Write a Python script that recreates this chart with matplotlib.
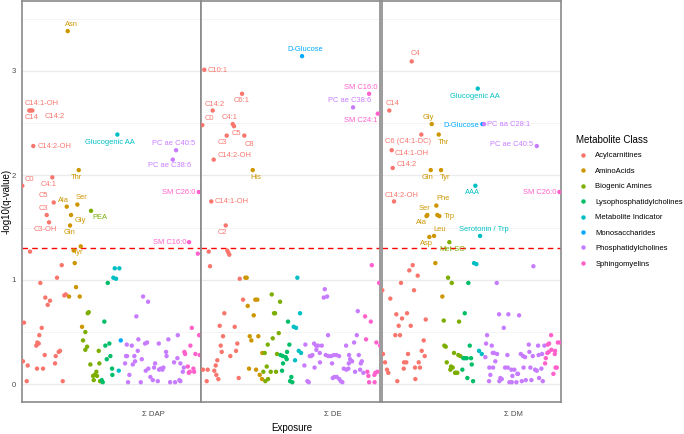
import matplotlib
matplotlib.use("Agg")
import matplotlib.pyplot as plt
from matplotlib.lines import Line2D
import numpy as np

plt.rcParams['font.family'] = ['Liberation Sans', 'DejaVu Sans']

CLASSES = ["Acylcarnitines", "AminoAcids", "Biogenic Amines", "Lysophosphatidylcholines",
           "Metabolite Indicator", "Monosaccharides", "Phosphatidylcholines", "Sphingomyelins"]
CLASS_COLORS = ["#F8766D", "#CD9600", "#7CAE00", "#00BE67", "#00BFC4", "#00A9FF", "#C77CFF", "#FF61CC"]
EXPOSURES = ["\u03a3 DAP", "\u03a3 DE", "\u03a3 DM"]
N_METABOLITES = 179.3
THRESHOLD = -np.log10(0.05)

# ---------------- DAP ----------------
DAP_RANK = [8.3, 40, 35.3, 18.6, 23.6, 28.3, 26, 42.6, 44, 2.3, 20, 17.6, 14.6, 15.6, 17, 23, 34, 33.3, 37, 38.3, 1.3, 6, 15.3, 21.3, 5, 41,
            52, 53, 54.3, 47.3, 58, 60.3,
            67, 66, 63.6, 61.3, 77, 77.6, 68.6, 65.3, 63.6, 71.3, 75.3, 73, 74.6, 72, 78.3,
            86, 82.6, 83.6, 87.6, 88.6, 85, 90.3, 90.6, 81, 80,
            93, 97.6, 91.6, 94.3, 97,
            99,
            121.3, 126.3, 114.6, 156, 105, 110, 116.6, 123.3, 125.3, 137, 146.6, 144.3, 144.8, 103.3, 106.3, 107.6, 104.3, 105.3,
            112.6, 113.3, 111, 116, 120, 119, 124, 126.6, 128.6, 131, 133.3, 132.3, 136, 137.3, 139, 140.6, 141.6, 148.3, 153.3,
            157.6, 158.6, 152.3, 158.6, 155.6, 161, 162,
            166, 170, 177.3, 168.6, 162.6, 163.3, 173.6, 171.6, 172.3, 176, 167, 168, 178]
DAP_LOGQ = [1.27, 1.14, 1.02, 0.97, 0.83, 0.80, 0.76, 0.85, 0.86, 0.59, 0.54, 0.47, 0.37, 0.40, 0.39, 0.28, 0.27, 0.20, 0.31, 0.32, 0.22, 0.18, 0.15, 0.15, 0.03, 0.03,
            1.28, 1.16, 0.93, 0.84, 0.84, 0.55,
            0.69, 0.68, 0.50, 0.42, 0.32, 0.20, 0.19, 0.36, 0.33, 0.08, 0.08, 0.09, 0.12, 0.04, 0.03,
            0.97, 0.60, 0.37, 0.39, 0.27, 0.24, 0.15, 0.09, 0.02, 0.04,
            1.11, 1.11, 1.02, 1.01, 0.13,
            0.42,
            0.84, 0.79, 0.65, 0.47, 0.38, 0.37, 0.43, 0.39, 0.40, 0.39, 0.43, 0.31, 0.27, 0.20, 0.02, 0.09, 0.27, 0.27,
            0.27, 0.22, 0.19, 0.32, 0.24, 0.02, 0.13, 0.15, 0.07, 0.04, 0.20, 0.16, 0.03, 0.14, 0.15, 0.14, 0.16, 0.02, 0.02,
            0.04, 0.03, 0.21, 0.20, 0.25, 0.12, 0.16,
            0.17, 0.54, 0.47, 0.37, 0.31, 0.29, 0.29, 0.15, 0.12, 1.25, 0.11, 0.12, 0.28]
DAP_CLASS = [0] * 26 + [1] * 6 + [2] * 15 + [3] * 10 + [4] * 5 + [5] * 1 + [6] * 44 + [7] * 13

DAP_LAB_NAME = ["Asn", "C14:1-OH", "C14", "C14:2", "C14:2-OH", "Glucogenic AA", "PC ae C40:5", "PC ae C38:6", "Thr",
                "C4:1", "C0", "SM C26:0", "C5", "Ala", "Ser", "C3", "Gly", "PEA", "C3-OH", "Gln", "SM C16:0", "Tyr"]
DAP_LAB_RANK = [46, 7.6, 9.1, 10.6, 11.6, 95.6, 154.3, 151, 57, 30.6, 0.6, 177, 32, 45, 55.6, 25, 49.3, 69.3, 27.3, 48.3, 167.3, 59]
DAP_LAB_LOGQ = [3.38, 2.62, 2.62, 2.62, 2.28, 2.39, 2.24, 2.15, 2.05, 1.98, 1.90, 1.84, 1.74, 1.70, 1.72, 1.62, 1.62, 1.66, 1.55,
                1.52, 1.36, 1.32]
DAP_LAB_CLASS = [1, 0, 0, 0, 0, 4, 6, 6, 1, 0, 0, 7, 0, 1, 1, 0, 1, 2, 0, 1, 7, 1]

# ---------------- DE ----------------
DE_RANK = [7.7, 26.3, 27.3, 28.3, 9, 38.7, 42, 23.3, 18.7, 33.7, 22, 19.7, 36.3, 20.7, 35, 29.3, 16.3, 14.7, 2, 6.7, 13.3, 15.3, 17.3, 5.7, 37.7,
           44.3, 45.7, 54.3, 56.3, 46.7, 52.7, 48.7, 50.3, 57.3, 61.3, 48, 55, 58.7, 61,
           70.7, 79, 73, 74, 77.7, 71.7, 66.7, 63.7, 76, 65.7, 62.3, 69.7, 75, 64.3, 67,
           87, 88.3, 79.5, 81.7, 84.7, 86, 82, 81, 90.3, 89, 91.3, 85.7,
           96.3, 99, 92.7, 95, 97.7, 100, 94,
           123.7, 122.7, 126, 156.7, 127, 155.7, 104.3, 113, 115, 117, 120.7, 145, 153, 108.7, 110, 111.3, 115.3, 118.7, 124.7,
           127.3, 130, 132.7, 135.3, 138, 148, 149, 151, 147.7, 157.7, 103.3, 113.5, 118.9, 131, 142.7, 145.2, 147.3, 154, 159.7,
           160.7, 159, 162.3, 106.3, 107.7, 131.7, 133.3, 135.7, 138.2, 139.7, 141.3,
           170.7, 178, 164, 169.7, 165, 175.3, 179, 166.3, 167.3, 173.3, 174.3, 176.3, 168, 173.5]
DE_LOGQ = [1.27, 1.28, 1.26, 1.24, 1.13, 1.01, 0.81, 0.68, 0.56, 0.55, 0.46, 0.37, 0.39, 0.31, 0.32, 0.27, 0.23, 0.18, 0.14, 0.14, 0.13, 0.09, 0.05, 0.03, 0.06,
           1.02, 1.02, 0.81, 0.81, 0.75, 0.66, 0.46, 0.42, 0.46, 0.30, 0.15, 0.14, 0.09, 0.05,
           0.86, 0.79, 0.68, 0.68, 0.49, 0.44, 0.38, 0.30, 0.29, 0.17, 0.12, 0.12, 0.12, 0.03, 0.05,
           0.60, 0.38, 0.28, 0.27, 0.26, 0.31, 0.20, 0.13, 0.07, 0.03, 0.02, 0.24,
           1.02, 0.68, 0.55, 0.54, 0.32, 0.30, 0.23,
           0.91, 0.83, 0.84, 0.70, 0.47, 0.47, 0.38, 0.39, 0.37, 0.37, 0.37, 0.37, 0.40, 0.27, 0.27, 0.28, 0.33, 0.30, 0.28,
           0.27, 0.27, 0.28, 0.28, 0.27, 0.28, 0.24, 0.22, 0.20, 0.28, 0.18, 0.16, 0.21, 0.20, 0.15, 0.14, 0.15, 0.12, 0.20,
           0.22, 0.14, 0.11, 0.03, 0.02, 0.06, 0.07, 0.07, 0.05, 0.03, 0.02,
           1.14, 0.97, 0.65, 0.60, 0.43, 0.40, 0.37, 0.12, 0.08, 0.09, 0.11, 0.12, 0.02, 0.02]
DE_CLASS = [0] * 25 + [1] * 14 + [2] * 15 + [3] * 12 + [4] * 7 + [6] * 49 + [7] * 14

DE_LAB_NAME = ["D-Glucose", "C10:1", "C6:1", "SM C16:0", "PC ae C38:6", "SM C24:1", "C14:2", "C0", "C4:1", "C5", "C3", "C8",
               "C14:2-OH", "His", "C14:1-OH", "C2"]
DE_LAB_RANK = [101, 3.3, 41, 168, 152, 176.7, 11.7, 1.3, 31.7, 33, 25.7, 43.3, 12.7, 51.7, 10.3, 24.7]
DE_LAB_LOGQ = [3.14, 3.01, 2.78, 2.78, 2.65, 2.59, 2.62, 2.48, 2.49, 2.47, 2.38, 2.38, 2.15, 2.05, 1.75, 1.52]
DE_LAB_CLASS = [5, 0, 0, 7, 6, 7, 0, 0, 0, 0, 0, 0, 0, 1, 0, 0]

# ---------------- DM ----------------
DM_RANK = [30.9, 27.5, 35.9, 19.2, 32.2, 0.5, 8.5, 25.2, 14.5, 20.2, 43.9, 16.9, 28.9, 13.5, 18.2, 41.9, 1.2, 39.9, 42.9, 26.2,
           3.2, 22.2, 24.5, 36.9, 5.2, 6.5, 21.9, 33.2, 38.2, 15.5, 33.5,
           53.5, 60.5, 57.5,
           66.2, 69.9, 61.9, 77.2, 62.5, 63.9, 72.2, 76.5, 78.5, 64.9, 69.2, 70.9, 68.5, 74.2, 75.5, 73.2,
           86.5, 82.9, 87.9, 81.5, 83.2, 84.9, 89.2, 89.9, 80.5, 85.5, 91.2,
           92.2, 94.5, 97.2, 99.9,
           151.5, 114.9, 117.2, 126.5, 137.2, 121.9, 105.2, 104.2, 109.9, 146.9, 156.2, 162.5, 103.5, 110.9, 112.2, 115.2, 125.5,
           138.9, 141.2, 143.2, 147.5, 150.9, 156.7, 160.2, 113.5, 107.5, 111.2, 123.2, 125.9, 129.5, 132.5, 135.5, 141.7, 148.5,
           153.2, 154.9, 159.5, 108.5, 119.9, 118.5, 107.2, 117.5, 127.5, 129.9, 134.5, 139.9, 143.9, 149.5, 157.2, 160.9, 130.5,
           136.2,
           169.2, 165.9, 167.2, 169.5, 166.9, 173.2, 175.9, 178.2, 165.5, 163.9, 163.2, 172.9, 171.5, 174.9, 173.7]
DM_LOGQ = [1.14, 1.09, 1.04, 0.97, 0.90, 0.90, 0.82, 0.68, 0.67, 0.63, 0.62, 0.56, 0.56, 0.47, 0.47, 0.42, 0.29, 0.32, 0.27, 0.29,
           0.21, 0.21, 0.21, 0.21, 0.14, 0.11, 0.15, 0.16, 0.16, 0.03, 0.05,
           1.16, 0.84, 1.61,
           1.02, 0.97, 0.61, 0.60, 0.37, 0.36, 0.30, 0.28, 0.27, 0.21, 0.17, 0.16, 0.14, 0.11, 0.11, 0.11,
           0.97, 0.68, 0.37, 0.25, 0.25, 0.25, 0.25, 0.19, 0.14, 0.06, 0.03,
           1.16, 1.15, 0.32, 0.29,
           1.13, 0.97, 0.67, 0.67, 0.66, 0.54, 0.47, 0.39, 0.37, 0.38, 0.37, 0.37, 0.26, 0.30, 0.30, 0.29, 0.28,
           0.29, 0.27, 0.26, 0.31, 0.27, 0.28, 0.29, 0.22, 0.16, 0.16, 0.16, 0.16, 0.14, 0.14, 0.10, 0.16, 0.16,
           0.14, 0.13, 0.15, 0.09, 0.05, 0.06, 0.03, 0.03, 0.02, 0.02, 0.02, 0.03, 0.04, 0.04, 0.06, 0.03, 0.08,
           0.10,
           0.47, 0.38, 0.39, 0.33, 0.31, 0.32, 0.40, 0.40, 0.30, 0.25, 0.20, 0.29, 0.10, 0.16, 0.16]
DM_CLASS = [0] * 31 + [1] * 3 + [2] * 16 + [3] * 11 + [4] * 4 + [6] * 52 + [7] * 15

DM_LAB_NAME = ["C4", "Glucogenic AA", "C14", "Gly", "D-Glucose", "PC aa C28:1", "C6 (C4:1-DC)", "Thr", "PC ae C40:5",
               "C14:1-OH", "C14:2", "Gln", "Tyr", "AAA", "SM C26:0", "C14:2-OH", "Phe", "Ser", "Ala", "Trp", "Leu", "Asp",
               "Met-SO", "Serotonin / Trp"]
DM_LAB_RANK = [29.9, 95.9, 7.5, 49.9, 100.5, 102.2, 39.5, 56.9, 154.9, 9.9, 10.9, 48.9, 59.2, 93.5, 177.5, 12.2, 54.5, 45.5,
               44.7, 55.5, 52.2, 47.5, 67.5, 98.2]
DM_LAB_LOGQ = [3.09, 2.83, 2.62, 2.49, 2.49, 2.49, 2.39, 2.39, 2.28, 2.24, 2.07, 2.05, 2.05, 1.90, 1.84, 1.75, 1.71, 1.62,
               1.61, 1.62, 1.42, 1.41, 1.36, 1.42]
DM_LAB_CLASS = [0, 4, 0, 1, 5, 6, 0, 1, 6, 0, 0, 1, 1, 4, 7, 0, 1, 1, 1, 1, 1, 1, 2, 4]

# label offsets in pixels (dx right, dy down), repel-style placement
LABEL_OFFSETS = [
    {"Asn": (3.3, -6.7), "C14:1-OH": (12, -6.7), "C14": (0.9, 6.7), "C14:2": (22, 5.7), "C14:2-OH": (21, 0.7),
     "Glucogenic AA": (-7.6, 7.7), "PC ae C40:5": (-2.7, -6.3), "PC ae C38:6": (-3.4, 6), "Thr": (-2.7, 7.4),
     "C4:1": (-3.3, 7.3), "C0": (7, -6), "SM C26:0": (-20.4, 0.6), "C5": (-10.4, -6.7), "Ala": (-3.4, -6),
     "Ser": (4, -6.7), "C3": (-3.4, -6.3), "Gly": (9, 5.4), "PEA": (9, 6.3), "C3-OH": (-3.3, 7.3), "Gln": (-0.3, 7.3),
     "SM C16:0": (-19, 0.6), "Tyr": (-2.4, 6.6)},
    {"D-Glucose": (3, -6.3), "C10:1": (13.4, 0.7), "C6:1": (-0.7, 7), "SM C16:0": (-8, -6.3), "PC ae C38:6": (-3, -7),
     "SM C24:1": (-16.7, 7), "C14:2": (2.3, -6.3), "C0": (7, -6.7), "C4:1": (-3.4, -6.6), "C5": (2.7, 7), "C3": (-4, 7.4),
     "C8": (5, 9.4), "C14:2-OH": (20.6, -3.7), "His": (3, 7.4), "C14:1-OH": (20.4, 0.3), "C2": (-3, 7.3)},
    {"C4": (3.3, -7.4), "Glucogenic AA": (-2.7, 7.7), "C14": (3, -6.7), "Gly": (-3, -6.3), "D-Glucose": (-21.3, 1.7),
     "PC aa C28:1": (24.3, 0), "C6 (C4:1-DC)": (-13.6, 7.3), "Thr": (4.3, 7.7), "PC ae C40:5": (-25, -1.6),
     "C14:1-OH": (20.3, 3.7), "C14:2": (14, -3), "Gln": (-3.7, 7.4), "Tyr": (4, 7.4), "AAA": (-3, 7),
     "SM C26:0": (-20, 0.3), "C14:2-OH": (7.7, -6), "Phe": (6.7, -6.7), "Ser": (-3, -7), "Ala": (-4.8, 6.3),
     "Trp": (11.7, 1.3), "Leu": (5.3, -6.4), "Asp": (-3.3, 7), "Met-SO": (3, 7.7), "Serotonin / Trp": (4.3, -6.7)},
]

PANELS = [
    (DAP_RANK, DAP_LOGQ, DAP_CLASS, DAP_LAB_NAME, DAP_LAB_RANK, DAP_LAB_LOGQ, DAP_LAB_CLASS),
    (DE_RANK, DE_LOGQ, DE_CLASS, DE_LAB_NAME, DE_LAB_RANK, DE_LAB_LOGQ, DE_LAB_CLASS),
    (DM_RANK, DM_LOGQ, DM_CLASS, DM_LAB_NAME, DM_LAB_RANK, DM_LAB_LOGQ, DM_LAB_CLASS),
]

W, H = 684, 434
fig = plt.figure(figsize=(W / 100, H / 100), dpi=100)
fig.patch.set_facecolor("white")

panel_left_px = [21.7, 201.0, 381.8]
panel_w_px = 179.4
top_px, bot_px = 1.0, 401.7
ylim = ((384.3 - bot_px) / 104.5, (384.3 - top_px) / 104.5)

for i, (rk, lq, cl, ln, lr, ll, lc) in enumerate(PANELS):
    ax = fig.add_axes([panel_left_px[i] / W, (H - bot_px) / H, panel_w_px / W, (bot_px - top_px) / H])
    ax.set_facecolor("white")
    ax.set_xlim(0, N_METABOLITES)
    ax.set_ylim(*ylim)
    ax.set_yticks([0, 1, 2, 3])
    ax.set_yticks([0.5, 1.5, 2.5, 3.5], minor=True)
    ax.grid(True, axis="y", which="major", color="#EBEBEB", lw=0.9, zorder=0)
    ax.grid(True, axis="y", which="minor", color="#F3F3F3", lw=0.6, zorder=0)
    ax.set_axisbelow(True)
    for s in ax.spines.values():
        s.set_color("#8a8a8a")
        s.set_linewidth(1.2)
    ax.tick_params(axis="both", which="both", length=0)
    ax.set_xticks([131.6])
    ax.set_xticklabels([EXPOSURES[i]], fontsize=5.6, color="#4d4d4d")
    ax.tick_params(axis="x", pad=6.5)
    if i == 0:
        ax.set_yticklabels(["0", "1", "2", "3"], fontsize=5.6, color="#4d4d4d")
        ax.tick_params(axis="y", pad=4)
    else:
        ax.set_yticklabels([])

    ax.axhline(THRESHOLD, color="red", ls=(0, (4, 3)), lw=1.0, zorder=2)

    cols = [CLASS_COLORS[c] for c in cl]
    ax.scatter(rk, lq, s=10, c=cols, linewidths=0, zorder=3)
    lcols = [CLASS_COLORS[c] for c in lc]
    ax.scatter(lr, ll, s=10, c=lcols, linewidths=0, zorder=3)

    offs = LABEL_OFFSETS[i]
    for name, x, y, c in zip(ln, lr, ll, lc):
        dx, dy = offs[name]
        ax.annotate(name, (x, y), xytext=(dx, -dy), textcoords="offset pixels",
                    ha="center", va="center", fontsize=5.4, color=CLASS_COLORS[c], zorder=4,
                    annotation_clip=False)

fig.text(291.7 / W, 1 - 428.3 / H, "Exposure", ha="center", va="center", fontsize=7, color="black")
fig.text(7.0 / W, 1 - 201 / H, "-log10(q-value)", ha="center", va="center", rotation=90, fontsize=7, color="black")

handles = [Line2D([0], [0], marker="o", ls="", markersize=3.2, markerfacecolor=c, markeredgewidth=0)
           for c in CLASS_COLORS]
leg = fig.legend(handles, CLASSES, loc="upper left", bbox_to_anchor=(575.5 / W, 1 - 134.5 / H),
                 frameon=False, fontsize=5.5, title="Metabolite Class", title_fontsize=7,
                 handlelength=1.9, handletextpad=0.7, labelspacing=1.06, borderpad=0, borderaxespad=0)
leg._legend_box.align = "left"
leg._legend_box.sep = 5.5

fig.savefig("out.png", dpi=100)
